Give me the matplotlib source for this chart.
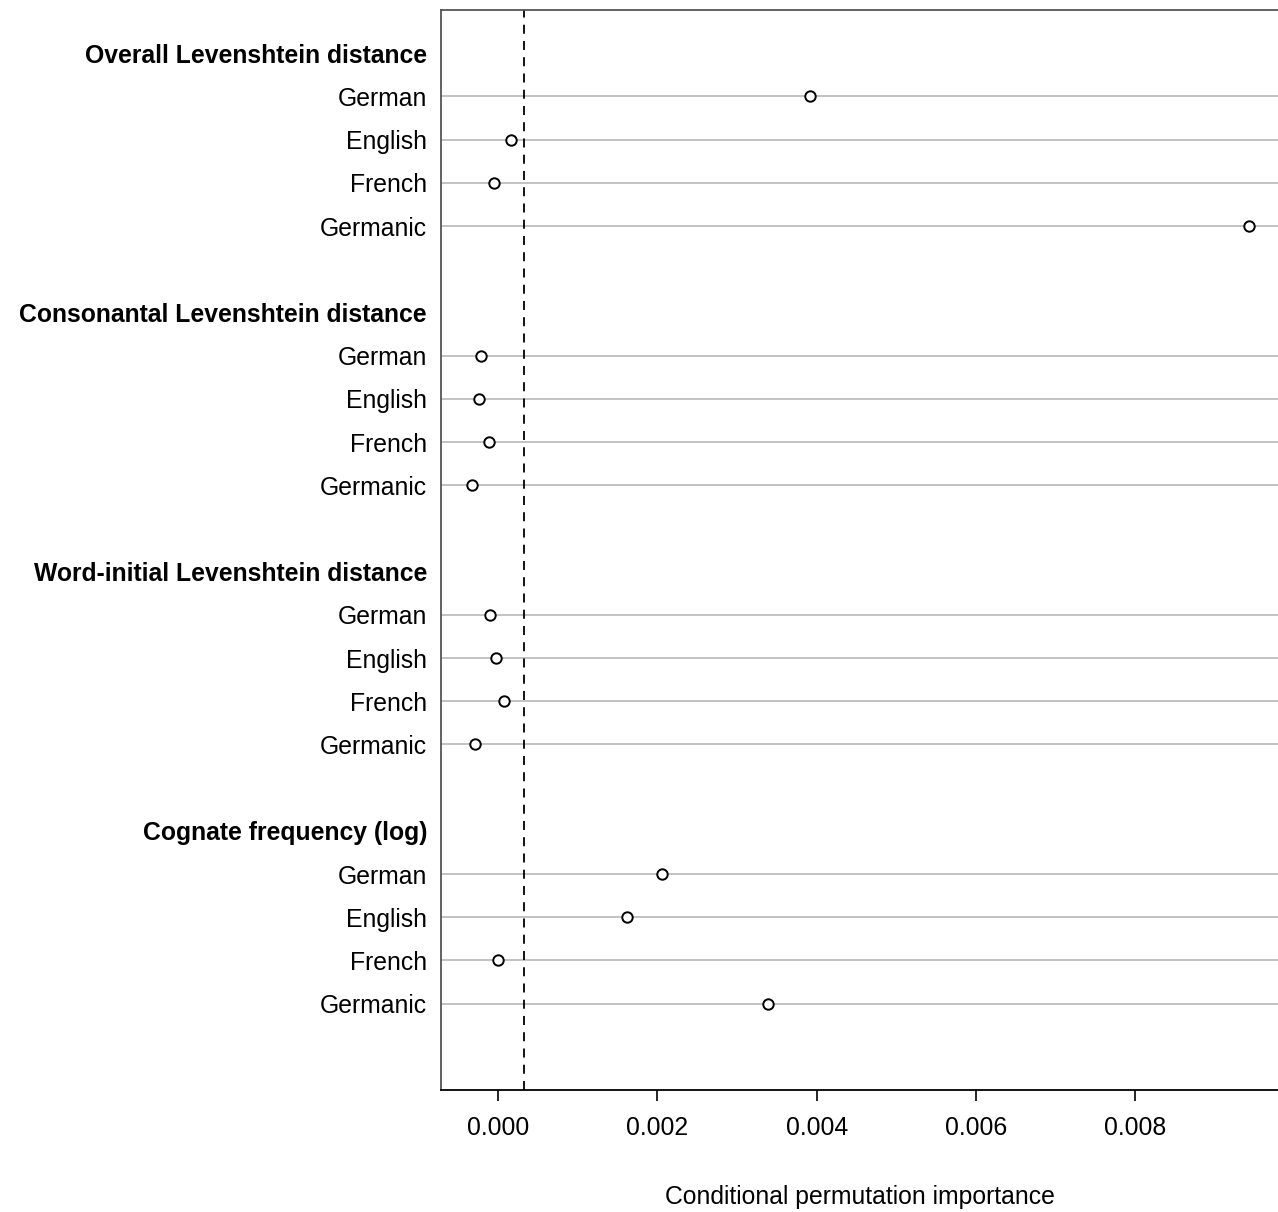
import matplotlib.pyplot as plt

plt.rcParams['font.family'] = ['Liberation Sans', 'DejaVu Sans']

groups = ['Overall Levenshtein distance', 'Consonantal Levenshtein distance',
          'Word-initial Levenshtein distance', 'Cognate frequency (log)']
languages = ['German', 'English', 'French', 'Germanic']
importance = [
    [0.00392, 0.000163, -0.00005, 0.00943],
    [-0.000213, -0.000239, -0.000113, -0.000326],
    [-0.0001, -0.000025, 0.000075, -0.000289],
    [0.00206, 0.00162, 0.0, 0.00339],
]
threshold = 0.000322

fig = plt.figure(figsize=(12.78, 12.12), dpi=100)
ax = fig.add_axes([441 / 1278, 122 / 1212, 1 - 441 / 1278, 1080 / 1212])

ticks = []
labels = []
row = 0
for g, name in enumerate(groups):
    ticks.append(row)
    labels.append(name)
    row += 1
    for i, lang in enumerate(languages):
        ax.axhline(row, color='#bdbdbd', lw=1.3, zorder=1)
        ax.plot(importance[g][i], row, 'o', mfc='white', mec='black', mew=1.4, ms=7.5, zorder=3)
        ticks.append(row)
        labels.append(lang)
        row += 1
    row += 1

ax.axvline(threshold, color='black', ls=(0, (5, 4)), lw=1.3, zorder=2)

fs = 17.8
ax.set_ylim(24.0, -1.0)
ax.set_xlim(-0.000716, 0.00979)
ax.set_yticks(ticks)
ax.set_yticklabels(labels, fontsize=fs)
for t in ax.get_yticklabels():
    if t.get_text() in groups:
        t.set_fontweight('bold')
ax.tick_params(axis='y', length=0, pad=10)
ax.set_xticks([0.0, 0.002, 0.004, 0.006, 0.008])
ax.set_xticklabels(['0.000', '0.002', '0.004', '0.006', '0.008'], fontsize=fs)
ax.tick_params(axis='x', length=8, width=1.2, pad=11)
ax.set_xlabel('Conditional permutation importance', fontsize=fs, labelpad=32)

ax.spines['right'].set_visible(False)
ax.spines['left'].set_color('#555555')
ax.spines['top'].set_color('#555555')
for s in ax.spines.values():
    s.set_linewidth(1.3)

fig.savefig('out.png', dpi=100)
